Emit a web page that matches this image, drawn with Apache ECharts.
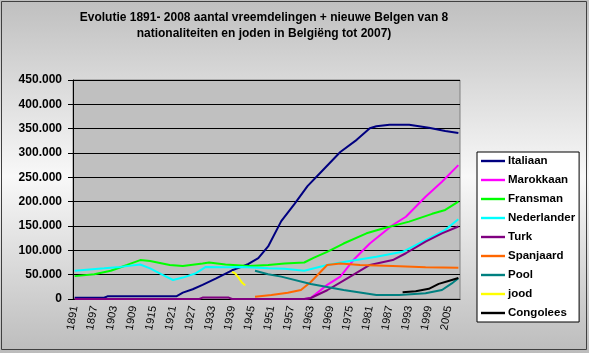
<!DOCTYPE html>
<html>
<head>
<meta charset="utf-8">
<script src="https://cdn.jsdelivr.net/npm/echarts@6/dist/echarts.min.js"></script>
<style>
  html, body { margin: 0; padding: 0; }
  #chart { width: 589px; height: 353px; }
</style>
</head>
<body>
<div id="chart"></div>
<script>
// years on the category axis
const years = [];
for (let y = 1891; y <= 2008; y++) years.push(String(y));

// values, per nationality (year, count)
const italiaanYears = [1891, 1900, 1901, 1922, 1924, 1927, 1930, 1934, 1939, 1941, 1944, 1947, 1950, 1954, 1958, 1962, 1966, 1972, 1977, 1981, 1983, 1987, 1993, 1999, 2004, 2008];
const italiaanVals = [2500, 2500, 5500, 5500, 13000, 20000, 29000, 42000, 59000, 64000, 72000, 84000, 108000, 160000, 195000, 232000, 260000, 302000, 327000, 351000, 355000, 358000, 358000, 352000, 345000, 341000];

const marokkaanYears = [1961, 1963, 1968, 1972, 1976, 1981, 1988, 1992, 1998, 2003, 2008];
const marokkaanVals = [0, 2000, 29000, 46000, 80000, 114000, 152000, 169000, 210000, 241000, 275000];

const fransmanYears = [1891, 1897, 1902, 1907, 1911, 1914, 1920, 1924, 1930, 1932, 1937, 1944, 1950, 1955, 1961, 1964, 1968, 1973, 1980, 1985, 1993, 2000, 2004, 2008];
const fransmanVals = [47000, 51000, 58000, 70000, 80000, 78000, 70000, 68000, 73000, 75000, 71000, 68000, 70000, 73000, 75000, 85000, 97000, 114000, 135000, 145000, 159000, 175000, 183000, 200000];

const nederlanderYears = [1891, 1900, 1905, 1911, 1914, 1918, 1921, 1924, 1928, 1931, 1937, 1942, 1950, 1955, 1961, 1968, 1974, 1983, 1991, 1998, 2004, 2008];
const nederlanderVals = [58000, 63000, 66000, 71000, 63000, 49000, 39000, 44000, 53000, 66000, 65000, 66000, 63000, 62000, 58000, 70000, 77000, 87000, 97000, 121000, 142000, 164000];

const turkYears = [1891, 1929, 1930, 1938, 1939, 1961, 1963, 1968, 1974, 1981, 1988, 1992, 1998, 2003, 2008];
const turkVals = [0, 0, 3000, 3000, 0, 0, 2000, 18000, 42000, 70000, 80000, 94000, 118000, 135000, 149000];

const spanjaardYears = [1946, 1951, 1956, 1960, 1963, 1968, 1972, 1978, 1988, 1998, 2008];
const spanjaardVals = [4500, 8000, 13000, 18500, 35000, 70000, 73000, 70000, 68000, 65000, 64000];

const poolYears = [1946, 1950, 1954, 1963, 1973, 1983, 1990, 1998, 2003, 2006, 2008];
const poolVals = [58000, 51000, 46000, 31000, 18500, 8000, 8000, 11700, 18500, 32000, 42500];

const joodYears = [1939, 1940, 1941, 1942, 1943];
const joodVals = [56000, 52000, 44000, 34000, 28000];

const congoleesYears = [1991, 1995, 1999, 2002, 2005, 2008];
const congoleesVals = [14000, 16000, 21000, 31000, 37000, 43000];

const yTicks = [0, 50000, 100000, 150000, 200000, 250000, 300000, 350000, 400000, 450000];

function pairs(ys, vs) {
  return ys.map((y, i) => [String(y), vs[i]]);
}

const seriesDefs = [
  ["Italiaan", "#000080", italiaanYears, italiaanVals],
  ["Marokkaan", "#FF00FF", marokkaanYears, marokkaanVals],
  ["Fransman", "#00FF00", fransmanYears, fransmanVals],
  ["Nederlander", "#00FFFF", nederlanderYears, nederlanderVals],
  ["Turk", "#800080", turkYears, turkVals],
  ["Spanjaard", "#FF6600", spanjaardYears, spanjaardVals],
  ["Pool", "#008080", poolYears, poolVals],
  ["jood", "#FFFF00", joodYears, joodVals],
  ["Congolees", "#000000", congoleesYears, congoleesVals],
];

const font = "'Liberation Sans', Arial, sans-serif";

var myChart = echarts.init(document.getElementById("chart"));
myChart.setOption({
  animation: false,
  backgroundColor: {
    type: "linear", x: 0, y: 0, x2: 0, y2: 1,
    colorStops: [
      { offset: 0, color: "#bfbfbf" },
      { offset: 0.5, color: "#f8f8f8" },
      { offset: 1, color: "#bcbcbc" },
    ],
  },
  title: {
    text: "Evolutie 1891- 2008 aantal vreemdelingen + nieuwe Belgen van 8\nnationaliteiten en joden in Belgiëng tot 2007)",
    left: 259,
    textAlign: "center",
    top: 5,
    textStyle: { fontFamily: font, fontSize: 12, fontWeight: "bold", color: "#000", lineHeight: 16 },
  },
  graphic: [
    {
      type: "rect",
      shape: { x: 1.5, y: 1.5, width: 585, height: 348 },
      style: { fill: null, stroke: "#404040", lineWidth: 1 },
      z: 100,
    },
  ],
  legend: {
    orient: "vertical",
    left: 477,
    top: 152,
    backgroundColor: "#fff",
    borderColor: "#000",
    borderWidth: 1,
    padding: [3, 4, 3, 4],
    icon: "path://M0,0H24V2.4H0Z",
    itemWidth: 24,
    itemHeight: 12,
    itemGap: 7,
    textStyle: { fontFamily: font, fontSize: 11.5, fontWeight: "bold", color: "#000", padding: [0, 0, 0, -2] },
    data: seriesDefs.map((d) => d[0]),
  },
  grid: {
    left: 73,
    right: 129,
    top: 80,
    bottom: 54,
    show: true,
    backgroundColor: "#c0c0c0",
    borderColor: "#808080",
    borderWidth: 1,
  },
  xAxis: {
    type: "category",
    data: years,
    boundaryGap: true,
    axisLine: { lineStyle: { color: "#000", width: 1 } },
    axisTick: { interval: 0, length: 5, lineStyle: { color: "#000" } },
    axisLabel: {
      interval: 5,
      rotate: 80,
      fontFamily: font,
      fontSize: 11,
      color: "#000",
      margin: 7,
    },
  },
  yAxis: {
    type: "value",
    min: 0,
    max: 450000,
    interval: 50000,
    axisLine: { show: true, lineStyle: { color: "#000" } },
    axisTick: { show: true, length: 5, lineStyle: { color: "#000" } },
    splitLine: { lineStyle: { color: "#000", width: 1 } },
    axisLabel: {
      fontFamily: font,
      fontSize: 12,
      fontWeight: "bold",
      color: "#000",
      margin: 11,
      formatter: (v) => (yTicks.includes(v) ? v.toLocaleString("de-DE") : ""),
    },
  },
  series: seriesDefs.map(([name, color, ys, vs]) => ({
    name: name,
    type: "line",
    data: pairs(ys, vs),
    symbol: "none",
    color: color,
    lineStyle: { color: color, width: 2 },
    connectNulls: true,
  })),
});
</script>
</body>
</html>
